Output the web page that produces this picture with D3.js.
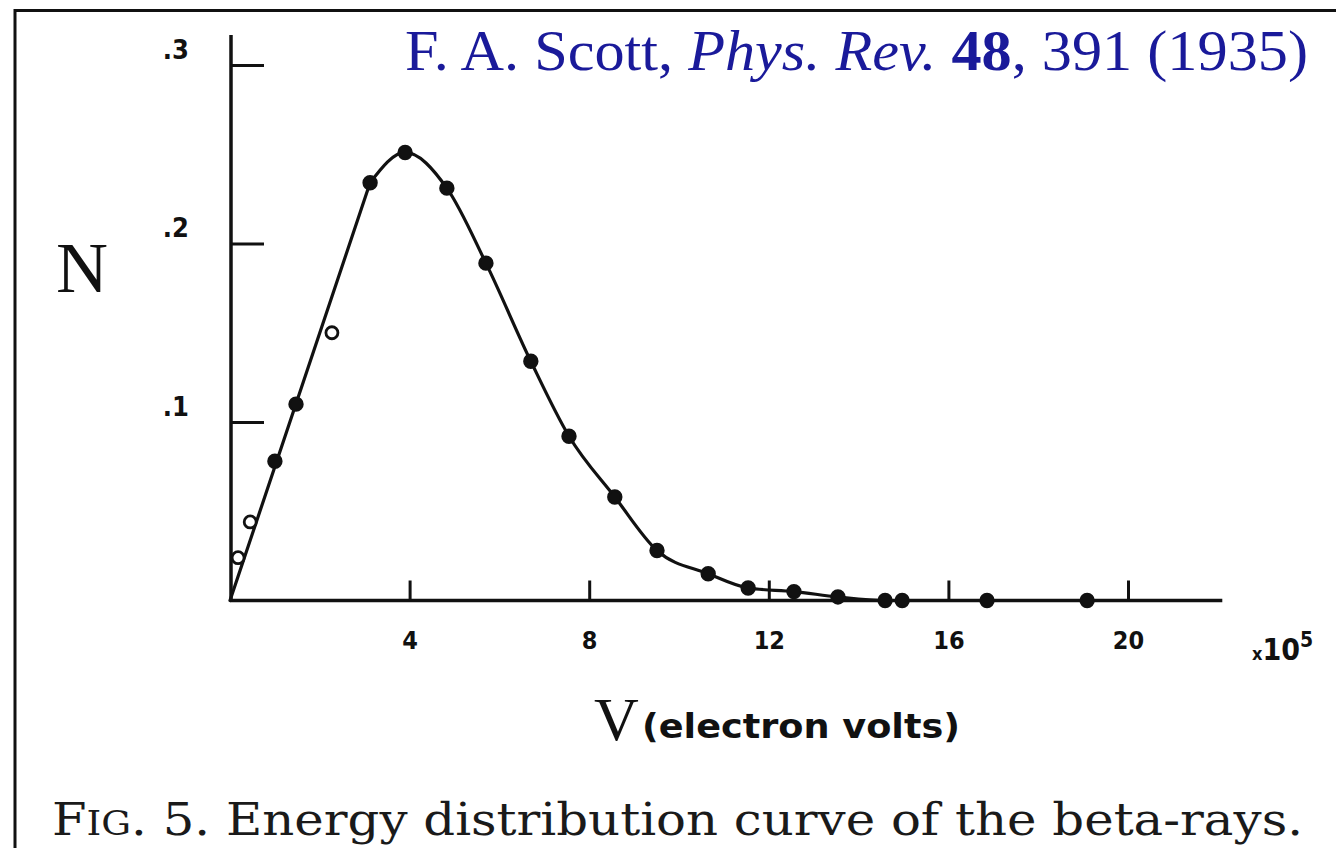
<!DOCTYPE html>
<html><head><meta charset="utf-8">
<script src="https://cdn.jsdelivr.net/npm/d3@7/dist/d3.min.js"></script>
<style>body{margin:0;background:#fff}svg{display:block}</style>
</head><body>
<svg id="c" width="1336" height="848"></svg>
<script>
// Data (V in units of 1e5 eV, N)
const energy = [0.18, 0.45, 1.0, 1.47, 2.27, 3.12, 3.90, 4.83, 5.70, 6.70, 7.55, 8.57, 9.51, 10.65, 11.54, 12.56, 13.54, 14.59, 14.97, 16.86, 19.09];
const counts = [0.024, 0.044, 0.078, 0.110, 0.150, 0.234, 0.251, 0.231, 0.189, 0.134, 0.092, 0.058, 0.028, 0.015, 0.007, 0.005, 0.002, 0.0, 0.0, 0.0, 0.0];
const openMarker = [true, true, false, false, true, false, false, false, false, false, false, false, false, false, false, false, false, false, false, false, false];
const riseEnd = 3.12; // the curve is a straight line from the origin up to this point
const xTicks = [4, 8, 12, 16, 20];
const xTickLabels = ["4", "8", "12", "16", "20"];
const yTicks = [0.1, 0.2, 0.3];
const yTickLabels = [".1", ".2", ".3"];

const svg = d3.select("#c");
const x = d3.scaleLinear().domain([0, 20]).range([230, 1128]);
const y = d3.scaleLinear().domain([0, 0.3]).range([600.5, 65]);

// frame
svg.append("line").attr("x1", 15).attr("x2", 15).attr("y1", 9).attr("y2", 848).attr("stroke", "#111").attr("stroke-width", 3);
svg.append("line").attr("x1", 14).attr("x2", 1336).attr("y1", 10.5).attr("y2", 10.5).attr("stroke", "#111").attr("stroke-width", 3);

// axes lines
svg.append("line").attr("x1", x(0)).attr("x2", x(22.1)).attr("y1", y(0)).attr("y2", y(0)).attr("stroke", "#111").attr("stroke-width", 3.5);
svg.append("line").attr("x1", x(0)+1).attr("x2", x(0)+1).attr("y1", 35).attr("y2", y(0)+1).attr("stroke", "#111").attr("stroke-width", 3.5);

// x axis ticks
const xa = d3.axisBottom(x).tickValues(xTicks).tickFormat((d, i) => xTickLabels[i]).tickSize(-20).tickSizeOuter(0).tickPadding(38);
const gx = svg.append("g").attr("transform", `translate(0,${y(0)})`).call(xa);
gx.select(".domain").remove();
gx.selectAll(".tick line").attr("stroke", "#111").attr("stroke-width", 3);
gx.selectAll(".tick text").attr("fill", "#111").attr("font-family", "DejaVu Sans Condensed, DejaVu Sans").attr("font-size", 25).attr("font-weight", "bold").attr("dy", "0.4em");

// y axis ticks
const ya = d3.axisLeft(y).tickValues(yTicks).tickFormat((d, i) => yTickLabels[i]).tickSize(-33).tickSizeOuter(0).tickPadding(42);
const gy = svg.append("g").attr("transform", `translate(${x(0)+1},0)`).call(ya);
gy.select(".domain").remove();
gy.selectAll(".tick line").attr("stroke", "#111").attr("stroke-width", 3);
gy.selectAll(".tick text").attr("fill", "#111").attr("font-family", "DejaVu Sans Condensed, DejaVu Sans").attr("font-size", 27).attr("font-weight", "bold").attr("dy", "-0.25em");

// curve: drawn through the origin and the solid points
const solid = energy.map((e, i) => [e, counts[i], openMarker[i]]).filter(d => !d[2]);
const rise = [[0, 0]].concat(solid.filter(d => d[0] <= riseEnd));
const fall = solid.filter(d => d[0] >= riseEnd);
const lin = d3.line().x(d => x(d[0])).y(d => y(d[1]));
const smooth = d3.line().x(d => x(d[0])).y(d => y(d[1])).curve(d3.curveMonotoneX);
svg.append("path").datum([rise[0], rise[rise.length - 1]]).attr("d", lin).attr("fill", "none").attr("stroke", "#111").attr("stroke-width", 3.2).attr("stroke-linecap", "round");
svg.append("path").datum(fall).attr("d", smooth).attr("fill", "none").attr("stroke", "#111").attr("stroke-width", 3.2).attr("stroke-linecap", "round");

// markers
svg.selectAll("circle.pt").data(energy).join("circle").attr("class", "pt")
  .attr("cx", d => x(d)).attr("cy", (d, i) => y(counts[i]))
  .attr("r", (d, i) => openMarker[i] ? 6 : 6.5)
  .attr("fill", (d, i) => openMarker[i] ? "#fff" : "#111")
  .attr("stroke", "#111").attr("stroke-width", (d, i) => openMarker[i] ? 2.8 : 2.4);

// title
const t = svg.append("text").attr("x", 405).attr("y", 70).attr("fill", "#1a1a9a").attr("font-family", "Liberation Serif, Times New Roman, serif").attr("font-size", 58).attr("textLength", 903).attr("lengthAdjust", "spacingAndGlyphs");
t.append("tspan").text("F. A. Scott, ");
t.append("tspan").attr("font-style", "italic").text("Phys. Rev.");
t.append("tspan").text(" ");
t.append("tspan").attr("font-weight", "bold").text("48");
t.append("tspan").text(", 391 (1935)");

// N label
svg.append("text").attr("x", 56).attr("y", 292).attr("fill", "#111").attr("font-family", "Liberation Serif, serif").attr("font-size", 72).text("N");

// V label
svg.append("text").attr("x", 594).attr("y", 740).attr("fill", "#111").attr("font-family", "Liberation Serif, serif").attr("font-size", 62).text("V");
svg.append("text").attr("x", 642).attr("y", 738).attr("fill", "#111").attr("font-family", "DejaVu Sans Condensed, DejaVu Sans").attr("font-size", 33).attr("font-weight", "bold").attr("textLength", 318).attr("lengthAdjust", "spacingAndGlyphs").text("(electron volts)");

// x10^5
const m = svg.append("text").attr("x", 1252).attr("y", 660).attr("fill", "#111").attr("font-family", "DejaVu Sans Condensed, DejaVu Sans").attr("font-size", 30).attr("font-weight", "bold");
m.append("tspan").attr("font-size", 18).text("x");
m.append("tspan").text("10");
m.append("tspan").attr("dy", -13).attr("font-size", 21).text("5");

// caption
const cap = svg.append("text").attr("x", 52).attr("y", 835).attr("fill", "#1a1a1a").attr("font-family", "DejaVu Serif, serif").attr("font-size", 44).attr("textLength", 1251).attr("lengthAdjust", "spacingAndGlyphs");
cap.append("tspan").text("F");
cap.append("tspan").attr("font-size", 33).text("IG");
cap.append("tspan").text(". 5. Energy distribution curve of the beta-rays.");
</script>
</body></html>
